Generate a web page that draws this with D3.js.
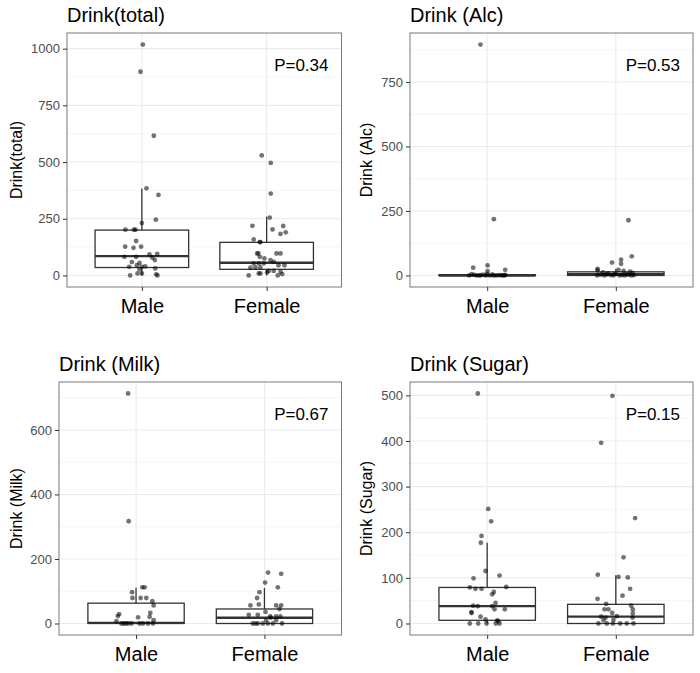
<!DOCTYPE html>
<html>
<head>
<meta charset="utf-8">
<script src="https://cdn.jsdelivr.net/npm/d3@7"></script>
<style>
  body { margin: 0; background: #fff; }
  svg { display: block; font-family: "Liberation Sans", Arial, Helvetica, sans-serif; }
</style>
</head>
<body>
<svg id="chart" width="700" height="673"></svg>
<script>
// categories and panel texts
const categories = ['Male', 'Female'];
const titles = ['Drink(total)', 'Drink (Alc)', 'Drink (Milk)', 'Drink (Sugar)'];
const pLabels = ['P=0.34', 'P=0.53', 'P=0.67', 'P=0.15'];

// box stats: [lower whisker, q1, median, q3, upper whisker]
const totalBoxMale   = [0, 35, 85, 200, 383];
const totalBoxFemale = [0, 27, 56, 146, 259];
const alcBoxMale     = [0, 0, 0, 3, 6];
const alcBoxFemale   = [0, 0, 5, 14, 25];
const milkBoxMale    = [0, 0, 2, 63, 111];
const milkBoxFemale  = [0, 0, 18, 45, 110];
const sugarBoxMale   = [0, 7, 38, 79, 177];
const sugarBoxFemale = [0, 0, 15, 42, 106];

// jittered points: [value, jitter offset in category units]
const totalMale = [[1018,0.008],[898,-0.011],[616,0.096],[384,0.037],[355,0.133],[246,0.112],[231,0],
  [202,-0.132],[202,-0.064],[202,-0.051],[152,-0.046],[127,-0.134],[122,-0.067],[127,-0.006],
  [82,-0.14],[82,-0.046],[93,0.061],[95,0.123],[79,0.083],[68,0.104],[59,-0.08],[55,-0.019],
  [38,-0.102],[45,-0.04],[38,0],[40,0.027],[31,0.107],[27,-0.019],[0,-0.094],[9,-0.035],[9,0],
  [0,0.125],[5,0.115]];
const totalFemale = [[529,-0.039],[496,0.033],[361,0.033],[255,0.025],[219,-0.114],[218,0.133],
  [203,0.047],[190,0.153],[183,0.111],[159,-0.104],[147,-0.055],[147,-0.05],[97,-0.076],[97,-0.066],
  [97,0.079],[97,0.111],[82,-0.055],[75,-0.018],[68,0.031],[60,0.057],[53,-0.104],[53,-0.063],
  [53,-0.023],[45,0.095],[45,0.143],[34,-0.13],[35,-0.09],[35,-0.05],[20,0.017],[20,0.057],
  [16,0.111],[0,-0.144],[9,-0.063],[9,-0.05],[14,0.004],[0,0.089],[6,0.125]];
const alcMale = [[895,-0.052],[218,0.052],[30,-0.109],[39,0.003],[22,0.14],[17,0.003],
  [0,-0.14],[2,-0.1],[0,-0.08],[1,-0.05],[3,-0.03],[0,-0.01],[0,0.02],[4,0.04],[0,0.07],
  [1,0.09],[0,0.12],[2,0.14],[5,-0.12],[6,0.0],[0,0.05],[0,-0.06],[1,0.11],[0,0.135]];
const alcFemale = [[214,0.098],[74,0.124],[61,0.041],[45,0.041],[50,-0.029],[25,-0.142],
  [20,-0.142],[22,0.02],[18,0.06],[15,0.11],[12,-0.1],[10,0.13],[8,-0.06],[6,0.0],[5,0.08],
  [3,-0.12],[2,-0.04],[0,-0.145],[0,-0.09],[0,-0.02],[0,0.03],[0,0.07],[0,0.12],[1,0.14],
  [4,-0.07],[3,0.1],[2,0.05],[7,-0.01]];
const milkMale = [[713,-0.062],[317,-0.057],[112,0.049],[112,0.067],[97,-0.031],[79,-0.028],
  [79,0.036],[79,0.08],[69,0.127],[56,0.137],[29,-0.132],[23,-0.142],[33,0.111],[21,0.106],
  [19,0.016],[7,-0.153],[10,0.137],[0,-0.114],[0,-0.08],[0,-0.036],[0,0.028],[0,0.054],
  [0,0.093],[0,0.132],[0,-0.096],[0,-0.062]];
const milkFemale = [[158,0.028],[154,0.13],[127,0.005],[112,0.104],[97,-0.039],[79,-0.057],
  [59,-0.044],[56,-0.109],[56,0.091],[56,0.13],[36,0.008],[45,0.117],[27,-0.122],[27,-0.052],
  [22,0.044],[22,0.091],[22,0.124],[0,-0.091],[0,-0.052],[0,-0.013],[0,0.026],[0,0.065],
  [0,0.137],[0,-0.07],[10,0.013],[10,0.091],[18,0.05]];
const sugarMale = [[504,-0.073],[251,0.008],[224,0.031],[192,-0.044],[177,-0.049],[115,-0.013],
  [99,-0.106],[105,0.096],[79,-0.135],[76,-0.091],[76,-0.044],[80,0.148],[69,0.052],[64,0.039],
  [39,-0.109],[38,-0.073],[45,0.065],[38,0.039],[31,0.057],[31,0.137],[25,-0.122],[23,-0.122],
  [15,-0.052],[9,-0.013],[7,0.078],[0,-0.135],[0,-0.07],[0,-0.005],[0,0.067],[0,0.096],[5,0.085]];
const sugarFemale = [[499,-0.026],[396,-0.114],[231,0.15],[145,0.06],[107,-0.14],[102,0.021],
  [101,0.093],[61,0.052],[76,0.111],[54,-0.142],[43,-0.075],[39,0.119],[31,0.132],[31,-0.088],
  [31,-0.057],[23,-0.028],[22,0.132],[15,-0.114],[13,-0.08],[16,0.008],[8,-0.018],[7,-0.096],
  [0,-0.135],[0,-0.07],[0,-0.023],[0,0.034],[0,0.085],[0,0.137],[13,0.13]];

const panels = [
  { left: 67,  right: 341.5, top: 33,  bottom: 287, box: [totalBoxMale, totalBoxFemale], pts: [totalMale, totalFemale], tickStep: 250 },
  { left: 410, right: 693,   top: 33,  bottom: 287, box: [alcBoxMale, alcBoxFemale],     pts: [alcMale, alcFemale],     tickStep: 250 },
  { left: 59,  right: 341.5, top: 382, bottom: 635, box: [milkBoxMale, milkBoxFemale],   pts: [milkMale, milkFemale],   tickStep: 200 },
  { left: 410, right: 693,   top: 382, bottom: 635, box: [sugarBoxMale, sugarBoxFemale], pts: [sugarMale, sugarFemale], tickStep: 100 }
];

const svg = d3.select('#chart');
const fontFam = '"Liberation Sans", Arial, sans-serif';

panels.forEach((p, i) => {
  const g = svg.append('g');
  const colX = i % 2 === 0 ? 0 : 350;

  // y domain: data range with 5% expansion, like ggplot
  const allVals = p.pts[0].concat(p.pts[1]).map(d => d[0]);
  const lo = d3.min(allVals), hi = d3.max(allVals);
  const pad = (hi - lo) * 0.05;
  const y = d3.scaleLinear().domain([lo - pad, hi + pad]).range([p.bottom, p.top]);
  const x = d3.scalePoint().domain(categories).range([p.left, p.right]).padding(0.6);
  const unit = x.step();

  const majors = d3.range(0, hi + pad, p.tickStep);
  const minors = d3.range(-p.tickStep / 2, hi + pad, p.tickStep).filter(v => v > lo - pad);

  // panel background + grid
  g.append('rect').attr('x', p.left).attr('y', p.top)
    .attr('width', p.right - p.left).attr('height', p.bottom - p.top).attr('fill', '#fff');
  g.selectAll('.minor').data(minors).enter().append('line')
    .attr('x1', p.left).attr('x2', p.right)
    .attr('y1', d => y(d)).attr('y2', d => y(d))
    .attr('stroke', '#f3f3f3').attr('stroke-width', 0.8);
  g.selectAll('.major').data(majors).enter().append('line')
    .attr('x1', p.left).attr('x2', p.right)
    .attr('y1', d => y(d)).attr('y2', d => y(d))
    .attr('stroke', '#ebebeb').attr('stroke-width', 1.1);
  g.selectAll('.vgrid').data(categories).enter().append('line')
    .attr('x1', d => x(d)).attr('x2', d => x(d))
    .attr('y1', p.top).attr('y2', p.bottom)
    .attr('stroke', '#ebebeb').attr('stroke-width', 1.1);

  // boxes
  categories.forEach((c, k) => {
    const b = p.box[k];
    const cx = x(c), hw = unit * 0.375;
    g.append('line').attr('x1', cx).attr('x2', cx).attr('y1', y(b[3])).attr('y2', y(b[4]))
      .attr('stroke', '#333').attr('stroke-width', 1.3);
    g.append('line').attr('x1', cx).attr('x2', cx).attr('y1', y(b[0])).attr('y2', y(b[1]))
      .attr('stroke', '#333').attr('stroke-width', 1.3);
    g.append('rect').attr('x', cx - hw).attr('width', hw * 2)
      .attr('y', y(b[3])).attr('height', Math.max(0.01, y(b[1]) - y(b[3])))
      .attr('fill', '#fff').attr('stroke', '#333').attr('stroke-width', 1.3);
    g.append('line').attr('x1', cx - hw).attr('x2', cx + hw).attr('y1', y(b[2])).attr('y2', y(b[2]))
      .attr('stroke', '#333').attr('stroke-width', 2.4);
  });

  // jittered points
  categories.forEach((c, k) => {
    g.selectAll('.pt' + k).data(p.pts[k]).enter().append('circle')
      .attr('cx', d => x(c) + d[1] * unit)
      .attr('cy', d => y(d[0]))
      .attr('r', 2.4)
      .attr('fill', '#000').attr('fill-opacity', 0.55);
  });

  // border
  g.append('rect').attr('x', p.left).attr('y', p.top)
    .attr('width', p.right - p.left).attr('height', p.bottom - p.top)
    .attr('fill', 'none').attr('stroke', '#7a7a7a').attr('stroke-width', 1);

  // y axis
  const yAxis = g.append('g').attr('transform', `translate(${p.left},0)`)
    .call(d3.axisLeft(y).tickValues(majors).tickFormat(d3.format('d')).tickSize(4).tickPadding(3));
  yAxis.select('.domain').remove();
  yAxis.selectAll('line').attr('stroke', '#333');
  yAxis.selectAll('text').attr('fill', '#4d4d4d').style('font-size', '13px')
    .style('font-family', fontFam);

  // x axis
  const xAxis = g.append('g').attr('transform', `translate(0,${p.bottom})`)
    .call(d3.axisBottom(x).tickSize(4).tickPadding(8));
  xAxis.select('.domain').remove();
  xAxis.selectAll('line').attr('stroke', '#333');
  xAxis.selectAll('text').attr('fill', '#000').style('font-size', '20px')
    .style('font-family', fontFam);

  // titles
  g.append('text').attr('x', p.left).attr('y', p.top - 11)
    .style('font-size', '20px').attr('fill', '#000').text(titles[i]);
  g.append('text')
    .attr('transform', `translate(${colX + 16},${(p.top + p.bottom) / 2}) rotate(-90)`)
    .attr('text-anchor', 'middle').attr('dy', '0.35em')
    .style('font-size', '16px').attr('fill', '#000').text(titles[i]);
  g.append('text').attr('x', p.right - 13).attr('y', p.top + 38)
    .attr('text-anchor', 'end').style('font-size', '17px').attr('fill', '#000').text(pLabels[i]);
});
</script>
</body>
</html>
